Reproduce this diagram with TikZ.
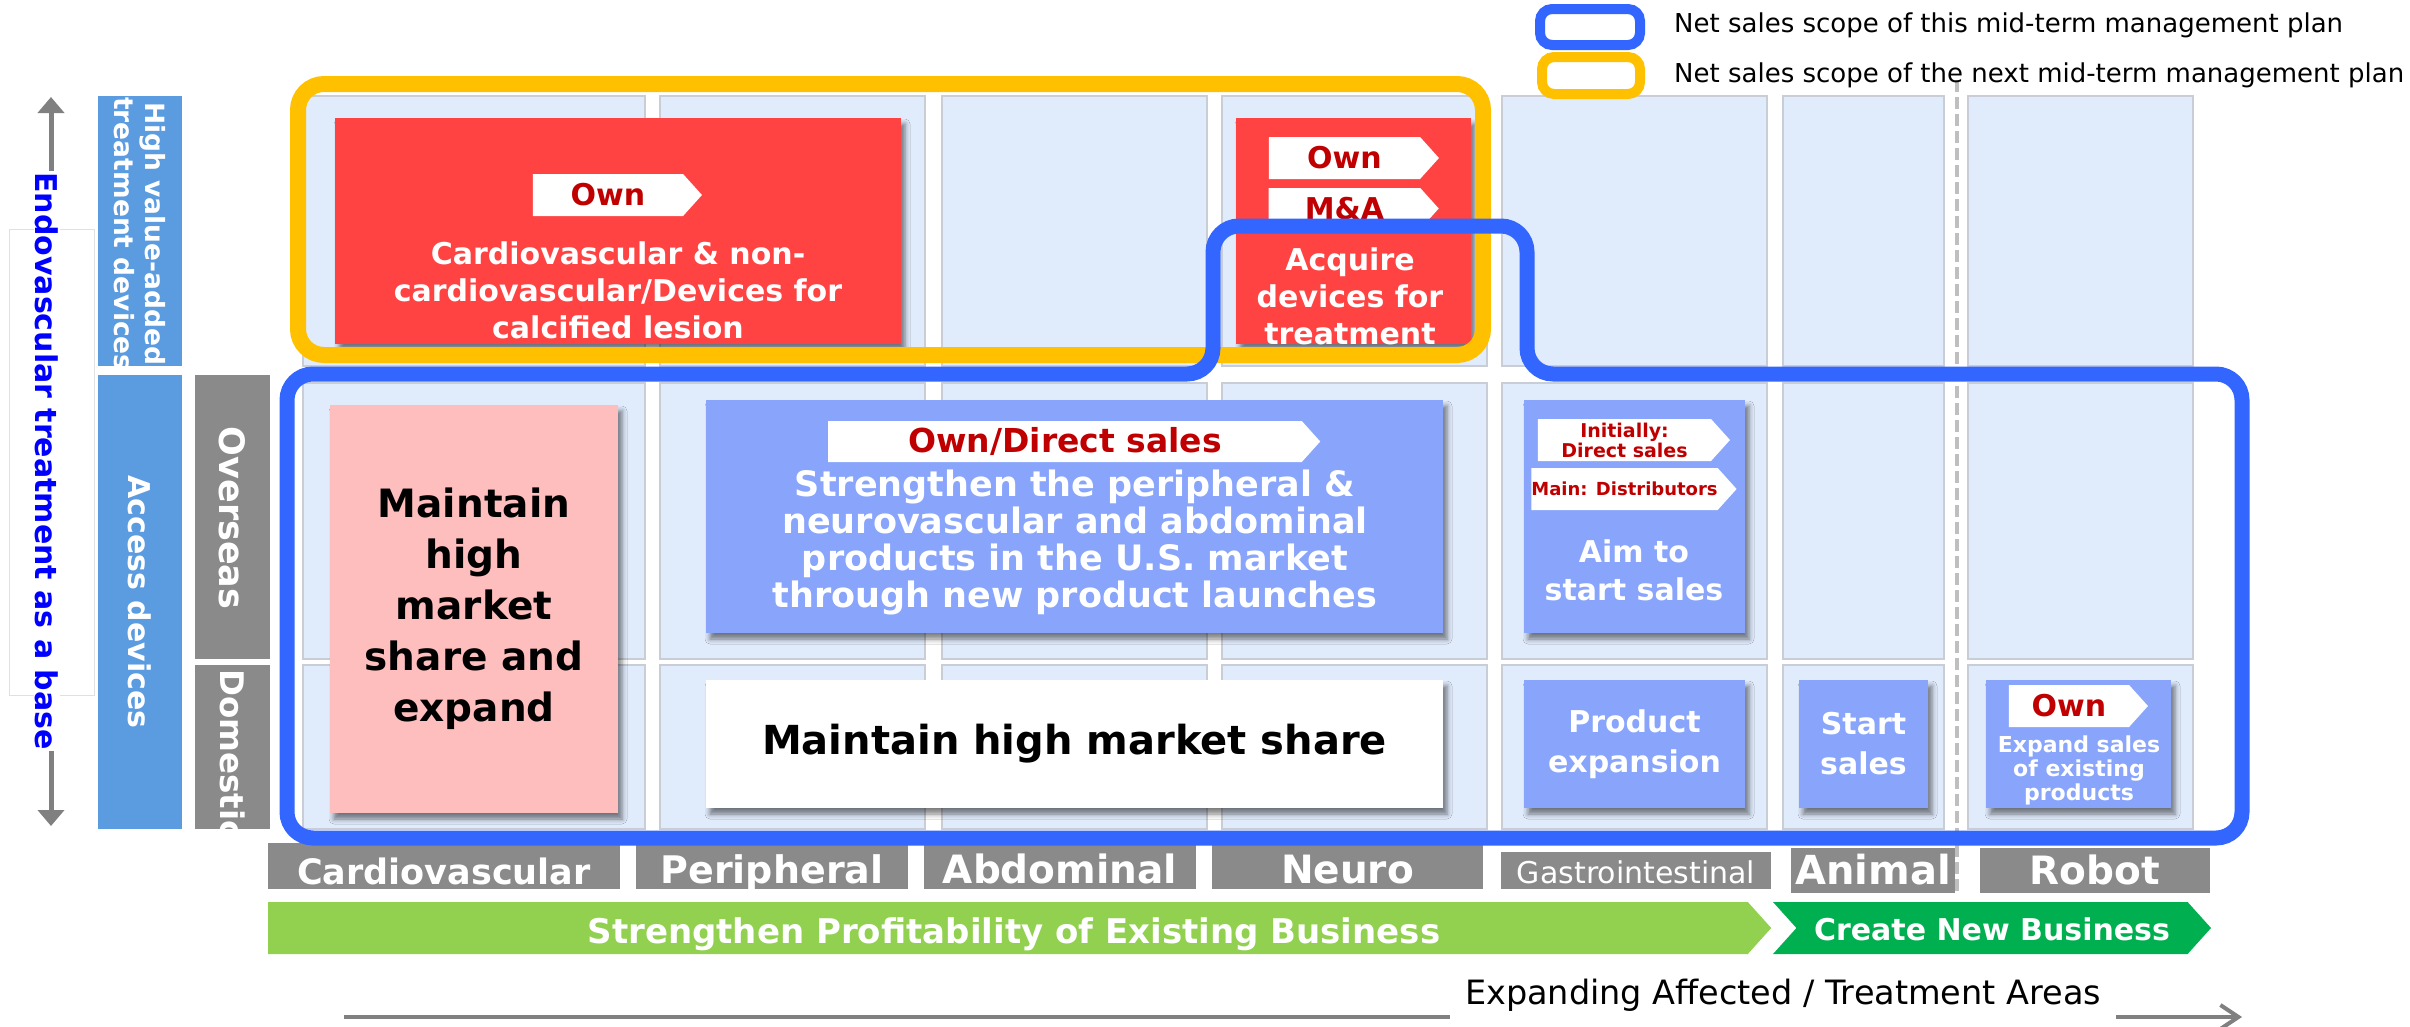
\documentclass[tikz,border=0pt]{standalone}
\usepackage{fontspec}
\setmainfont{DejaVu Sans}
\usetikzlibrary{arrows.meta,shapes.symbols,shadows.blur}

\definecolor{cellblue}{HTML}{E0EBFC}
\definecolor{cellline}{HTML}{C8CDD6}
\definecolor{boxred}{HTML}{FF4343}
\definecolor{tagred}{HTML}{C00000}
\definecolor{boxpink}{HTML}{FFBEBE}
\definecolor{boxblue}{HTML}{88A5FB}
\definecolor{barblue}{HTML}{5B9BE0}
\definecolor{labgray}{HTML}{8A8A8A}
\definecolor{arrowgray}{HTML}{808080}
\definecolor{dashgray}{HTML}{BFBFBF}
\definecolor{planblue}{HTML}{3366FF}
\definecolor{planyellow}{HTML}{FFC000}
\definecolor{lightgreen}{HTML}{92D050}
\definecolor{darkgreen}{HTML}{00B050}
\definecolor{textblue}{HTML}{0000FF}

\begin{document}
\begin{tikzpicture}[x=1pt,y=-1pt,
  cell/.style={draw=cellline, fill=cellblue, line width=1.5pt, inner sep=0pt},
  bar/.style={fill=#1, inner sep=0pt},
  bartext/.style={rotate=-90, text=white, inner sep=0pt, align=center},
  card/.style={fill=#1, inner sep=0pt, blur shadow={shadow xshift=4pt, shadow yshift=-6pt, shadow blur radius=5pt, shadow opacity=50}},
  cardtext/.style={text=white, inner sep=0pt, align=center, font=\bfseries\fontsize{30}{37}\selectfont},
  tag/.style={shape=signal, signal to=east, signal pointer angle=96, fill=white, text=tagred, inner sep=0pt, align=center, font=\bfseries\fontsize{30}{30}\selectfont},
  area/.style={fill=labgray, text=white, inner sep=0pt, text depth=0pt, font=\bfseries\fontsize{39}{39}\selectfont},
  goal/.style={shape=signal, signal to=east, signal pointer angle=96, fill=#1, text=white, inner sep=0pt, minimum height=52pt, text depth=0pt, font=\bfseries\fontsize{34}{34}\selectfont},
  legend/.style={draw=#1, line width=10pt, rounded corners=12pt, fill=white, inner sep=0pt},
  planline/.style={draw=#1, line width=15pt, rounded corners=26pt}
]
\fill[white] (0,0) rectangle (2410,1026);
\useasboundingbox (0,0) rectangle (2410,1026);

\node[draw=black!12, fill=white, minimum width=85pt, minimum height=466pt, inner sep=0pt] (evbox) at (51.5,462) {};
\coordinate (v0) at (51,97);
\coordinate (v1) at (51,826);
\draw[arrowgray, line width=5pt, {Triangle[length=16pt,width=26pt]}-{Triangle[length=16pt,width=26pt]}] (v0) -- (v1);
\node[rotate=-90, text=textblue, fill=white, inner sep=1pt, font=\bfseries\fontsize{30}{30}\selectfont] (ev) at (47,461) {Endovascular treatment as a base};

\node[bar=barblue, minimum width=84pt, minimum height=270pt] (hv) at (140,231) {};
\node[bar=barblue, minimum width=84pt, minimum height=454pt] (ad) at (140,602) {};
\node[bar=labgray, minimum width=75pt, minimum height=284pt] (os) at (232.5,517) {};
\node[bar=labgray, minimum width=75pt, minimum height=164pt] (dm) at (232.5,747) {};
\node[bartext, anchor=west, font=\bfseries\fontsize{26.5}{31}\selectfont] (hvt) at (140,97) {High value-added\\treatment devices};
\node[bartext, font=\bfseries\fontsize{30}{30}\selectfont] (adt) at (140,602) {Access devices};
\node[bartext, font=\bfseries\fontsize{35}{35}\selectfont] (ost) at (232.5,518) {Overseas};
\begin{scope}
\clip (195,665) rectangle (270,829);
\node[bartext, anchor=west, font=\bfseries\fontsize{32.5}{32.5}\selectfont] (dmt) at (232.5,669) {Domestic};
\end{scope}

\node[cell, minimum width=342pt, minimum height=270pt] (c11) at (474,231) {};
\node[cell, minimum width=265pt, minimum height=270pt] (c12) at (792.5,231) {};
\node[cell, minimum width=265pt, minimum height=270pt] (c13) at (1074.5,231) {};
\node[cell, minimum width=265pt, minimum height=270pt] (c14) at (1354.5,231) {};
\node[cell, minimum width=265pt, minimum height=270pt] (c15) at (1634.5,231) {};
\node[cell, minimum width=161pt, minimum height=270pt] (c16) at (1863.5,231) {};
\node[cell, minimum width=225pt, minimum height=270pt] (c17) at (2080.5,231) {};

\node[cell, minimum width=342pt, minimum height=276pt] (c21) at (474,521) {};
\node[cell, minimum width=265pt, minimum height=276pt] (c22) at (792.5,521) {};
\node[cell, minimum width=265pt, minimum height=276pt] (c23) at (1074.5,521) {};
\node[cell, minimum width=265pt, minimum height=276pt] (c24) at (1354.5,521) {};
\node[cell, minimum width=265pt, minimum height=276pt] (c25) at (1634.5,521) {};
\node[cell, minimum width=161pt, minimum height=276pt] (c26) at (1863.5,521) {};
\node[cell, minimum width=225pt, minimum height=276pt] (c27) at (2080.5,521) {};

\node[cell, minimum width=342pt, minimum height=164pt] (c31) at (474,747) {};
\node[cell, minimum width=265pt, minimum height=164pt] (c32) at (792.5,747) {};
\node[cell, minimum width=265pt, minimum height=164pt] (c33) at (1074.5,747) {};
\node[cell, minimum width=265pt, minimum height=164pt] (c34) at (1354.5,747) {};
\node[cell, minimum width=265pt, minimum height=164pt] (c35) at (1634.5,747) {};
\node[cell, minimum width=161pt, minimum height=164pt] (c36) at (1863.5,747) {};
\node[cell, minimum width=225pt, minimum height=164pt] (c37) at (2080.5,747) {};

\coordinate (d0) at (1957,80);
\coordinate (d1) at (1957,893);
\draw[dashgray, line width=4pt, dash pattern=on 12pt off 5pt] (d0) -- (d1);

\node[card=boxred, minimum width=566pt, minimum height=226pt] (r1) at (618,231) {};
\node[card=boxred, minimum width=235pt, minimum height=226pt] (r2) at (1353.5,231) {};
\node[card=boxpink, minimum width=288pt, minimum height=408pt, align=center, font=\bfseries\fontsize{39}{51}\selectfont] (p1) at (474,609) {Maintain\\high\\market\\share and\\expand};
\node[card=boxblue, minimum width=737pt, minimum height=233pt] (b4) at (1074.5,516.5) {};
\node[card=white, minimum width=737pt, minimum height=128pt, font=\bfseries\fontsize{40}{40}\selectfont] (w1) at (1074.5,744) {Maintain high market share};
\node[card=boxblue, minimum width=221pt, minimum height=233pt] (b5) at (1634.5,516.5) {};
\node[card=boxblue, minimum width=221pt, minimum height=128pt, text=white, align=center, font=\bfseries\fontsize{30}{40}\selectfont] (b35) at (1634.5,744) {Product\\expansion};
\node[card=boxblue, minimum width=129pt, minimum height=128pt, text=white, align=center, font=\bfseries\fontsize{30}{40}\selectfont] (b36) at (1863.5,744) {Start\\sales};
\node[card=boxblue, minimum width=185pt, minimum height=128pt] (b37) at (2078.5,744) {};

\node[tag, minimum width=169pt, minimum height=42pt] (o1) at (608,195) {Own};
\node[tag, minimum width=170pt, minimum height=42pt] (o2) at (1344.5,158) {Own};
\node[tag, minimum width=170pt, minimum height=41pt] (o3) at (1344.5,208.5) {M\&A};
\node[tag, minimum width=492pt, minimum height=41pt, font=\bfseries\fontsize{33}{33}\selectfont] (o4) at (1065,441.5) {Own/Direct sales};
\node[tag, minimum width=192pt, minimum height=42pt, font=\bfseries\fontsize{19}{20}\selectfont] (o5) at (1624.5,440) {Initially:\\Direct sales};
\node[tag, minimum width=192pt, minimum height=42pt, font=\bfseries\fontsize{18}{18}\selectfont] (o6) at (1624.5,489) {Main: Distributors};
\node[tag, minimum width=139pt, minimum height=42pt] (o7) at (2069,706) {Own};

\node[cardtext] (t1) at (618,290) {Cardiovascular \& non-\\cardiovascular/Devices for\\calcified lesion};
\node[cardtext] (t2) at (1350,296) {Acquire\\devices for\\treatment};
\node[cardtext, font=\bfseries\fontsize{35}{37}\selectfont] (t4) at (1075,542) {Strengthen the peripheral \&\\neurovascular and abdominal\\products in the U.S. market\\through new product launches};
\node[cardtext, font=\bfseries\fontsize{30}{38}\selectfont] (t5) at (1634,570) {Aim to\\start sales};
\node[cardtext, font=\bfseries\fontsize{22}{24}\selectfont] (t7) at (2079,770) {Expand sales\\of existing\\products};

\node[area, minimum width=352pt, minimum height=46pt, text height=37pt, font=\bfseries\fontsize{35}{35}\selectfont] (a1) at (444,866) {Cardiovascular};
\node[area, minimum width=272pt, minimum height=46pt, text height=35pt, font=\bfseries\fontsize{38}{38}\selectfont] (a2) at (772,866) {Peripheral};
\node[area, minimum width=272pt, minimum height=46pt, text height=35pt] (a3) at (1060,866) {Abdominal};
\node[area, minimum width=271pt, minimum height=46pt, text height=35pt] (a4) at (1347.5,866) {Neuro};
\node[area, minimum width=270pt, minimum height=37pt, text height=25pt, font=\fontsize{30}{30}\selectfont] (a5) at (1636,870.5) {Gastrointestinal};
\node[area, minimum width=164pt, minimum height=45pt, text height=27pt, font=\bfseries\fontsize{40}{40}\selectfont] (a6) at (1873,870.5) {Animal};
\node[area, minimum width=230pt, minimum height=45pt, text height=27pt] (a7) at (2095,870.5) {Robot};

\node[goal=lightgreen, minimum width=1503pt, text height=30pt] (g1) at (1008,928) {\hspace*{12pt}Strengthen Profitability of Existing Business};
\node[goal=darkgreen, signal from=west, minimum width=438pt, text height=24pt, font=\bfseries\fontsize{30}{30}\selectfont] (g2) at (1992,928) {Create New Business};

\coordinate (e0) at (344,1017);
\coordinate (e1) at (2242,1017);
\draw[arrowgray, line width=4pt, -{Straight Barb[length=18pt,width=24pt]}] (e0) -- (e1);
\node[fill=white, inner xsep=15pt, inner ysep=0pt, minimum height=52pt, font=\fontsize{33.5}{33.5}\selectfont] (ex) at (1783,995) {Expanding Affected / Treatment Areas};

\draw[planline=planyellow, line width=16pt] (298,84) rectangle (1483,355);
\draw[planline=planblue] (700,374) -- (1213,374) -- (1213,226) -- (1527,226) -- (1527,374) -- (2242,374) -- (2242,838) -- (287,838) -- (287,374) -- cycle;

\node[legend=planblue, minimum width=100pt, minimum height=36pt] (l1) at (1590,27) {};
\node[legend=planyellow, minimum width=98pt, minimum height=37pt] (l2) at (1591,75.5) {};
\node[anchor=base west, inner sep=0pt, font=\fontsize{26}{26}\selectfont] (l1t) at (1674,32) {Net sales scope of this mid-term management plan};
\node[anchor=base west, inner sep=0pt, font=\fontsize{26}{26}\selectfont] (l2t) at (1674,82) {Net sales scope of the next mid-term management plan};
\end{tikzpicture}
\end{document}
